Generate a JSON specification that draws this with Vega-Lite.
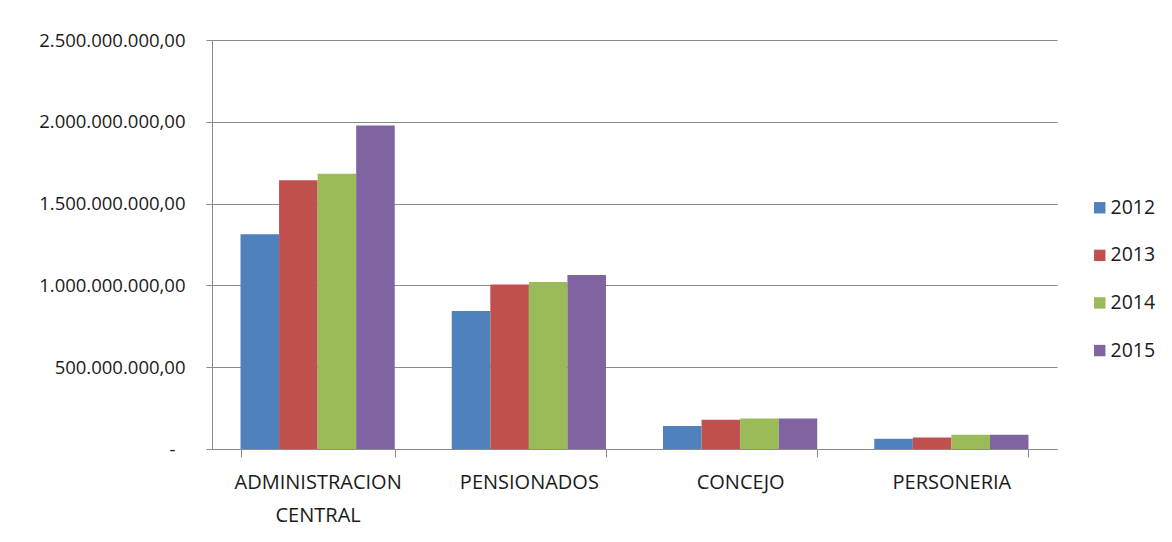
{
  "$schema": "https://vega.github.io/schema/vega-lite/v6.json",
  "autosize": "none",
  "width": 845,
  "height": 409,
  "padding": {"left": 212, "top": 40, "right": 115, "bottom": 93},
  "background": "white",
  "data": {
    "values": [
      {"categoria": "ADMINISTRACION CENTRAL", "anio": "2012", "valor": 1313000000},
      {"categoria": "ADMINISTRACION CENTRAL", "anio": "2013", "valor": 1642000000},
      {"categoria": "ADMINISTRACION CENTRAL", "anio": "2014", "valor": 1683000000},
      {"categoria": "ADMINISTRACION CENTRAL", "anio": "2015", "valor": 1978000000},
      {"categoria": "PENSIONADOS", "anio": "2012", "valor": 844000000},
      {"categoria": "PENSIONADOS", "anio": "2013", "valor": 1005000000},
      {"categoria": "PENSIONADOS", "anio": "2014", "valor": 1021000000},
      {"categoria": "PENSIONADOS", "anio": "2015", "valor": 1064000000},
      {"categoria": "CONCEJO", "anio": "2012", "valor": 140000000},
      {"categoria": "CONCEJO", "anio": "2013", "valor": 179000000},
      {"categoria": "CONCEJO", "anio": "2014", "valor": 187000000},
      {"categoria": "CONCEJO", "anio": "2015", "valor": 186000000},
      {"categoria": "PERSONERIA", "anio": "2012", "valor": 63000000},
      {"categoria": "PERSONERIA", "anio": "2013", "valor": 71000000},
      {"categoria": "PERSONERIA", "anio": "2014", "valor": 87000000},
      {"categoria": "PERSONERIA", "anio": "2015", "valor": 87000000}
    ]
  },
  "mark": {"type": "bar"},
  "encoding": {
    "x": {
      "field": "categoria",
      "type": "nominal",
      "sort": ["ADMINISTRACION CENTRAL", "PENSIONADOS", "CONCEJO", "PERSONERIA"],
      "scale": {"paddingInner": 0.27, "paddingOuter": 0.135},
      "axis": {
        "title": null,
        "labelAngle": 0,
        "labelExpr": "datum.label == 'ADMINISTRACION CENTRAL' ? ['ADMINISTRACION', 'CENTRAL'] : datum.label",
        "labelFont": "Open Sans",
        "labelFontSize": 20,
        "labelColor": "#1a1a1a",
        "labelLineHeight": 33,
        "labelPadding": 15,
        "labelBaseline": "top",
        "labelLimit": 0,
        "tickBand": "extent",
        "tickSize": 8,
        "tickColor": "#8a8a8a",
        "domainColor": "#8a8a8a",
        "grid": false
      }
    },
    "xOffset": {
      "field": "anio",
      "type": "nominal",
      "scale": {"paddingInner": 0, "paddingOuter": 0}
    },
    "y": {
      "field": "valor",
      "type": "quantitative",
      "scale": {"domain": [0, 2500000000]},
      "axis": {
        "title": null,
        "values": [0, 500000000, 1000000000, 1500000000, 2000000000, 2500000000],
        "labelExpr": "datum.value == 0 ? '-' : replace(replace(replace(format(datum.value, ',.2f'), regexp(',', 'g'), '#'), '.', ','), regexp('#', 'g'), '.')",
        "labelFont": "Open Sans",
        "labelFontSize": 18.5,
        "labelColor": "#1a1a1a",
        "labelPadding": {"condition": {"test": "datum.value == 0", "value": 31}, "value": 21},
        "labelLimit": 0,
        "tickSize": 6,
        "tickColor": "#8a8a8a",
        "domainColor": "#8a8a8a",
        "grid": true,
        "gridColor": "#8a8a8a",
        "gridWidth": 1
      }
    },
    "color": {
      "field": "anio",
      "type": "nominal",
      "scale": {"domain": ["2012", "2013", "2014", "2015"], "range": ["#4F81BD", "#C0504D", "#9BBB59", "#8064A2"]},
      "legend": {
        "title": null,
        "orient": "none",
        "legendX": 878,
        "legendY": 158,
        "symbolType": "square",
        "symbolSize": 130,
        "symbolStrokeWidth": 0,
        "labelFont": "Open Sans",
        "labelFontSize": 19.5,
        "labelColor": "#1a1a1a",
        "labelOffset": 1,
        "rowPadding": 26.6
      }
    }
  },
  "config": {
    "view": {"stroke": null}
  }
}
